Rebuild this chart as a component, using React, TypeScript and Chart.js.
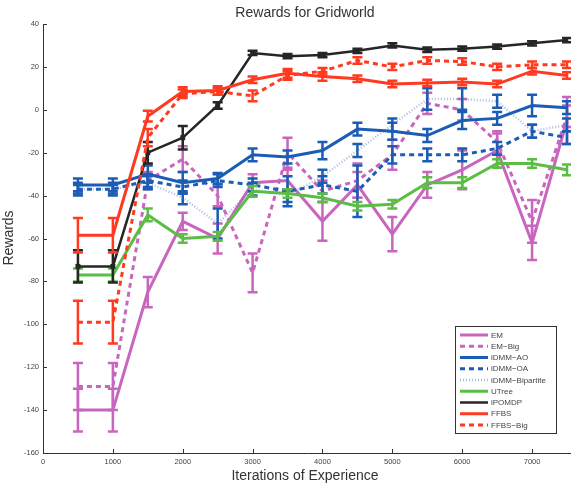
import { useEffect, useRef } from "react";
import { Chart, registerables } from "chart.js";

Chart.register(...registerables);

// Training iterations at which each method was evaluated
const iterations = [500, 1000, 1500, 2000, 2500, 3000, 3500, 4000, 4500, 5000, 5500, 6000, 6500, 7000, 7500];

// Mean reward and error-bar half-width per method
const emValues = [-140, -140, -85, -52, -60, -34, -33, -52, -35, -58, -35, -28, -19, -62, -5];
const emErrors = [10, 10, 7, 4, 7, 4, 5, 9, 6, 8, 6, 9, 8, 8, 11];

const emBigValues = [-129, -129, -33, -23, -40, -76, -20, -38, -33, -21, 3, 0, -15, -52, -3];
const emBigErrors = [11, 11, 4, 6, 5, 9, 7, 5, 8, 7, 5, 5, 5, 10, 5];

const aoValues = [-35, -35, -30, -34, -32, -21, -22, -19, -9, -10, -12, -5, -4, 2, 1];
const aoErrors = [3, 3, 4, 5, 2.5, 3, 3, 4, 3, 4, 3, 4, 3, 5, 3];

const oaValues = [-37, -37, -33, -36, -33, -35, -38, -35, -38, -21, -21, -21, -18, -10, -13];
const oaErrors = [3, 3, 3, 3, 3, 3, 7, 4, 12, 4, 3, 3, 3, 3, 3];

const bipartiteValues = [-37, -37, -34, -41, -53, -37, -40, -31, -19, -7, 5, 5, 4, -10, -7];
const bipartiteErrors = [2, 2, 3, 3, 7, 3, 3, 3, 3, 3, 5, 5, 3, 3, 3];

const utreeValues = [-77, -77, -49, -60, -59, -38, -39, -41, -45, -44, -34, -34, -25, -25, -28];
const utreeErrors = [3, 3, 3, 2, 2, 2.5, 2, 2, 2, 2, 2.5, 2.5, 2, 2, 2.5];

const ipomdpValues = [-73, -73, -20, -13, 2, 26.5, 25, 25.5, 27.5, 30, 28, 28.5, 29.5, 31, 32.5];
const ipomdpErrors = [7.5, 7.5, 5, 5.5, 1.5, 1, 1, 1, 1, 1, 1, 1, 1, 1, 1];

const ffbsValues = [-58.5, -58.5, -3, 8.5, 9, 14, 17, 15.5, 14.5, 12, 12.5, 13, 12, 18, 16];
const ffbsErrors = [8, 8, 2.5, 2, 2, 1.5, 2, 2, 1.5, 1.5, 1.5, 1.5, 1.5, 1.5, 1.5];

const ffbsBigValues = [-99, -99, -13, 7.5, 8.5, 6.5, 16, 18, 23, 20, 23, 22.5, 20, 21, 21];
const ffbsBigErrors = [10, 10, 4, 2, 1.5, 2.5, 2, 1.5, 1.5, 1.5, 1.5, 1.5, 1.5, 1.5, 1.5];

const xTicks = [0, 1000, 2000, 3000, 4000, 5000, 6000, 7000];

const TITLE = "Rewards for Gridworld";
const X_TITLE = "Iterations of Experience";
const Y_TITLE = "Rewards";

const MAGENTA = "#c866bf";
const BLUE = "#1b5db4";
const GREEN = "#5bbd46";
const BLACK = "#262626";
const RED = "#ff3a20";
const FONT = "'Liberation Sans', Arial, sans-serif";

type Method = {
  label: string;
  values: number[];
  errors: number[];
  color: string;
  barColor: string;
  dash: number[];
  width: number;
  marker?: boolean;
};

const methods: Method[] = [
  { label: "EM", values: emValues, errors: emErrors, color: MAGENTA, barColor: MAGENTA, dash: [], width: 3 },
  { label: "EM\u2212Big", values: emBigValues, errors: emBigErrors, color: MAGENTA, barColor: MAGENTA, dash: [5, 4], width: 3 },
  { label: "iDMM\u2212AO", values: aoValues, errors: aoErrors, color: BLUE, barColor: BLUE, dash: [], width: 3 },
  { label: "iDMM\u2212OA", values: oaValues, errors: oaErrors, color: BLUE, barColor: BLUE, dash: [5, 4], width: 3 },
  { label: "iDMM\u2212Bipartite", values: bipartiteValues, errors: bipartiteErrors, color: "rgba(60,110,190,0.45)", barColor: BLUE, dash: [1, 2], width: 2.5 },
  { label: "UTree", values: utreeValues, errors: utreeErrors, color: GREEN, barColor: GREEN, dash: [], width: 3 },
  { label: "iPOMDP", values: ipomdpValues, errors: ipomdpErrors, color: BLACK, barColor: BLACK, dash: [], width: 2.5, marker: true },
  { label: "FFBS", values: ffbsValues, errors: ffbsErrors, color: RED, barColor: RED, dash: [], width: 3 },
  { label: "FFBS\u2212Big", values: ffbsBigValues, errors: ffbsBigErrors, color: RED, barColor: RED, dash: [5, 4], width: 3 },
];

// Vertical error bars with caps, drawn right after each series so stacking follows series order
const errorBarPlugin = {
  id: "errorBars",
  afterDatasetDraw(chart: any, args: any) {
    const ds = chart.data.datasets[args.index];
    const errs: number[] | undefined = ds.errorValues;
    if (!errs) return;
    const ctx = chart.ctx;
    const yScale = chart.scales.y;
    const cap = 5;
    ctx.save();
    ctx.strokeStyle = ds.barColor;
    ctx.lineWidth = 2.5;
    ctx.setLineDash([]);
    args.meta.data.forEach((pt: any, i: number) => {
      const v = ds.data[i].y;
      const e = errs[i];
      const top = yScale.getPixelForValue(v + e);
      const bot = yScale.getPixelForValue(v - e);
      const x = pt.x;
      ctx.beginPath();
      ctx.moveTo(x, top);
      ctx.lineTo(x, bot);
      ctx.moveTo(x - cap, top);
      ctx.lineTo(x + cap, top);
      ctx.moveTo(x - cap, bot);
      ctx.lineTo(x + cap, bot);
      ctx.stroke();
    });
    ctx.restore();
  },
};

// Axis lines with inward ticks, titles and the boxed legend
const decorPlugin = {
  id: "decor",
  afterDraw(chart: any) {
    const ctx = chart.ctx;
    const area = chart.chartArea;
    const xs = chart.scales.x;
    const ys = chart.scales.y;
    ctx.save();
    ctx.strokeStyle = "#333";
    ctx.lineWidth = 1;
    ctx.setLineDash([]);
    ctx.beginPath();
    ctx.moveTo(area.left + 0.5, area.top);
    ctx.lineTo(area.left + 0.5, area.bottom + 0.5);
    ctx.lineTo(chart.width, area.bottom + 0.5);
    ctx.stroke();
    ctx.beginPath();
    xTicks.forEach((t) => {
      const px = Math.round(xs.getPixelForValue(t)) + 0.5;
      ctx.moveTo(px, area.bottom);
      ctx.lineTo(px, area.bottom - 4);
    });
    for (let v = -160; v <= 40; v += 20) {
      const py = Math.round(ys.getPixelForValue(v)) + 0.5;
      ctx.moveTo(area.left, py);
      ctx.lineTo(area.left + 4, py);
    }
    ctx.stroke();

    ctx.fillStyle = "#333";
    ctx.textAlign = "center";
    ctx.textBaseline = "middle";
    ctx.font = `14px ${FONT}`;
    ctx.fillText(TITLE, (area.left + area.right) / 2, 13);
    ctx.fillText(X_TITLE, (area.left + area.right) / 2, 476);
    ctx.save();
    ctx.translate(9, 238);
    ctx.rotate(-Math.PI / 2);
    ctx.fillText(Y_TITLE, 0, 0);
    ctx.restore();

    // Legend
    const bx = 455, by = 326, bw = 101, bh = 107;
    ctx.fillStyle = "#fff";
    ctx.fillRect(bx, by, bw, bh);
    ctx.strokeStyle = "#333";
    ctx.lineWidth = 1;
    ctx.strokeRect(bx + 0.5, by + 0.5, bw, bh);
    ctx.font = `8px ${FONT}`;
    ctx.textAlign = "left";
    methods.forEach((m, i) => {
      const ry = 335 + i * 11.25;
      ctx.strokeStyle = m.color;
      ctx.lineWidth = m.width;
      ctx.setLineDash(m.dash);
      ctx.beginPath();
      ctx.moveTo(460, ry);
      ctx.lineTo(488, ry);
      ctx.stroke();
      ctx.fillStyle = "#444";
      ctx.fillText(m.label, 491, ry + 0.5);
    });
    ctx.restore();
  },
};

export default function App() {
  const canvasRef = useRef<HTMLCanvasElement | null>(null);

  useEffect(() => {
    if (!canvasRef.current) return;
    const datasets = methods.map((m, i) => ({
      label: m.label,
      data: iterations.map((x, j) => ({ x, y: m.values[j] })),
      errorValues: m.errors,
      barColor: m.barColor,
      borderColor: m.color,
      backgroundColor: m.color,
      borderWidth: m.width,
      borderDash: m.dash,
      pointStyle: "rect",
      pointRadius: m.marker ? 3.5 : 0,
      pointBorderWidth: 0,
      pointBackgroundColor: m.color,
      tension: 0,
      fill: false,
      order: methods.length - 1 - i,
    }));

    const chart = new Chart(canvasRef.current, {
      type: "line",
      data: { datasets } as any,
      options: {
        animation: false,
        responsive: false,
        devicePixelRatio: 1,
        layout: { padding: { top: 24, right: 3, left: 0, bottom: 0 } },
        plugins: {
          legend: { display: false },
          title: { display: false },
          tooltip: { enabled: false },
        },
        scales: {
          x: {
            type: "linear",
            min: 0,
            max: 7500,
            grid: { display: false, drawTicks: false },
            border: { display: false },
            afterBuildTicks: (scale: any) => {
              scale.ticks = xTicks.map((v) => ({ value: v }));
            },
            afterFit: (scale: any) => {
              scale.height = 33;
            },
            ticks: {
              autoSkip: false,
              maxRotation: 0,
              padding: 4,
              color: "#444",
              font: { size: 7.5, family: FONT },
              callback: (v: any) => String(v),
            },
          },
          y: {
            min: -160,
            max: 40,
            grid: { display: false, drawTicks: false },
            border: { display: false },
            afterFit: (scale: any) => {
              scale.width = 43;
            },
            ticks: {
              stepSize: 20,
              padding: 4,
              color: "#444",
              font: { size: 7.5, family: FONT },
              callback: (v: any) => String(v),
            },
          },
        },
      },
      plugins: [errorBarPlugin, decorPlugin],
    });
    return () => chart.destroy();
  }, []);

  return (
    <div style={{ position: "fixed", left: 0, top: 0, width: 571, height: 486, background: "#fff" }}>
      <canvas ref={canvasRef} width={571} height={486} />
    </div>
  );
}
